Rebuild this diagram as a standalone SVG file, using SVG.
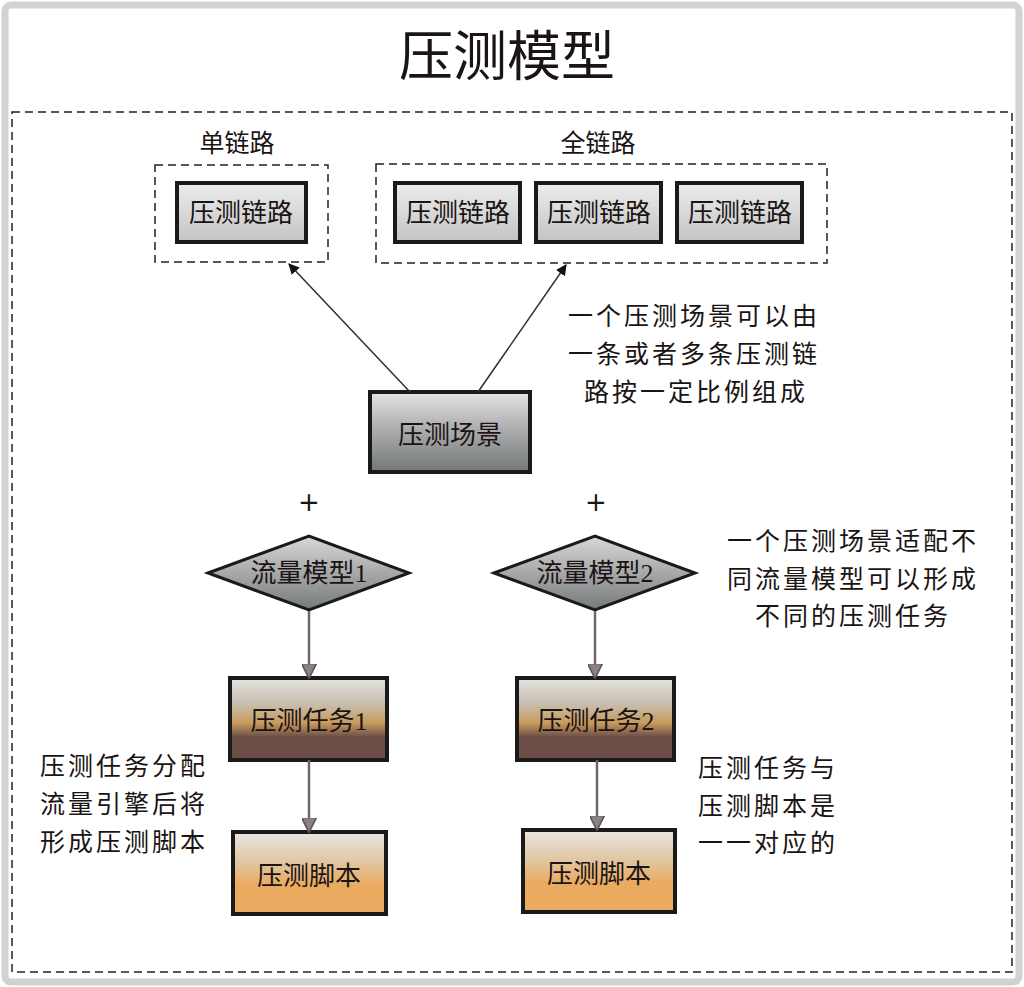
<svg xmlns="http://www.w3.org/2000/svg" width="1024" height="987" viewBox="0 0 1024 987">
<defs>
<style>
text{font-family:"Liberation Serif","Noto Sans CJK SC",serif;fill:#1a1414;}
.t{font-size:25px;text-anchor:middle;}
.n{font-size:26px;text-anchor:middle;}
.note{font-size:25px;letter-spacing:3px;}
.plus{font-size:26px;text-anchor:middle;font-family:"DejaVu Sans",sans-serif;}
.box{stroke:#1a1a1a;stroke-width:4;}
.dash{fill:none;stroke:#222;stroke-width:1.5;stroke-dasharray:8,5;}
.a1{stroke:#3a2c2c;stroke-width:1.5;fill:none;}
.a2{stroke:#6e6464;stroke-width:2.5;fill:none;}
</style>
<linearGradient id="gLink" x1="0" y1="0" x2="0" y2="1">
<stop offset="0" stop-color="#ececec"/><stop offset="1" stop-color="#c4c4c4"/>
</linearGradient>
<linearGradient id="gScene" x1="0" y1="0" x2="0" y2="1">
<stop offset="0" stop-color="#e6e4e2"/><stop offset="0.45" stop-color="#aeaeb0"/><stop offset="1" stop-color="#727877"/>
</linearGradient>
<linearGradient id="gDia" x1="0" y1="0" x2="0" y2="1">
<stop offset="0" stop-color="#d8d8d8"/><stop offset="0.5" stop-color="#a8a8aa"/><stop offset="1" stop-color="#747a7a"/>
</linearGradient>
<linearGradient id="gTask" x1="0" y1="0" x2="0" y2="1">
<stop offset="0" stop-color="#e4e2e0"/><stop offset="0.3" stop-color="#c8c0b4"/><stop offset="0.55" stop-color="#c89a5c"/><stop offset="0.72" stop-color="#6c4e48"/><stop offset="1" stop-color="#6c4e48"/>
</linearGradient>
<linearGradient id="gScript" x1="0" y1="0" x2="0" y2="1">
<stop offset="0" stop-color="#e8e6e4"/><stop offset="0.35" stop-color="#e0c8a4"/><stop offset="0.65" stop-color="#eaaa60"/><stop offset="1" stop-color="#eaaa60"/>
</linearGradient>
<marker id="mBlack" viewBox="0 0 10 10" refX="9" refY="5" markerWidth="11" markerHeight="11" markerUnits="userSpaceOnUse" orient="auto">
<path d="M0,0 L10,5 L0,10 z" fill="#111"/>
</marker>
<marker id="mGray" viewBox="0 0 10 10" refX="9" refY="5" markerWidth="15" markerHeight="15" markerUnits="userSpaceOnUse" orient="auto">
<path d="M0,0 L10,5 L0,10 z" fill="#8a8282" stroke="#5a5050" stroke-width="1"/>
</marker>
</defs>

<rect x="0" y="0" width="1024" height="987" fill="#ffffff"/>
<rect x="5" y="5" width="1014" height="977" rx="6" fill="#ffffff" stroke="#d2d2d2" stroke-width="7"/>
<rect x="12" y="112" width="1000" height="860" class="dash"/>

<g id="title"><text x="507" y="76" style="font-size:54px;text-anchor:middle;">压测模型</text></g>

<g id="single-group">
<text class="t" x="237" y="152">单链路</text>
<rect x="155" y="165" width="173" height="97" class="dash"/>
</g>
<g id="full-group">
<text class="t" x="598" y="152">全链路</text>
<rect x="376" y="164" width="451" height="99" class="dash"/>
</g>

<g id="link-single"><rect x="177" y="183" width="129" height="59" fill="url(#gLink)" class="box"/><text class="n" x="241" y="222">压测链路</text></g>
<g id="link-full-1"><rect x="395" y="183" width="125" height="59" fill="url(#gLink)" class="box"/><text class="n" x="458" y="222">压测链路</text></g>
<g id="link-full-2"><rect x="536" y="183" width="125" height="59" fill="url(#gLink)" class="box"/><text class="n" x="599" y="222">压测链路</text></g>
<g id="link-full-3"><rect x="677" y="183" width="125" height="59" fill="url(#gLink)" class="box"/><text class="n" x="740" y="222">压测链路</text></g>

<g id="scene"><rect x="370" y="392" width="160" height="80" fill="url(#gScene)" class="box"/><text class="n" x="450" y="444">压测场景</text></g>

<g id="plus1"><text class="plus" x="309" y="511">+</text></g>
<g id="plus2"><text class="plus" x="596" y="511">+</text></g>

<g id="model1"><polygon points="208,573 309,536 409,573 309,610" fill="url(#gDia)" stroke="#1a1a1a" stroke-width="3"/><text class="n" x="309" y="582">流量模型1</text></g>
<g id="model2"><polygon points="494,573 595,536 695,573 595,610" fill="url(#gDia)" stroke="#1a1a1a" stroke-width="3"/><text class="n" x="595" y="582">流量模型2</text></g>

<g id="task1"><rect x="230" y="678" width="157" height="82" fill="url(#gTask)" class="box"/><text class="n" x="309" y="730">压测任务1</text></g>
<g id="task2"><rect x="517" y="678" width="157" height="82" fill="url(#gTask)" class="box"/><text class="n" x="596" y="730">压测任务2</text></g>

<g id="script1"><rect x="233" y="832" width="153" height="82" fill="url(#gScript)" class="box"/><text class="n" x="309" y="885">压测脚本</text></g>
<g id="script2"><rect x="523" y="830" width="152" height="82" fill="url(#gScript)" class="box"/><text class="n" x="599" y="883">压测脚本</text></g>

<g id="connectors">
<line x1="410" y1="392" x2="289" y2="264" class="a1" marker-end="url(#mBlack)"/>
<line x1="478" y1="392" x2="566" y2="265" class="a1" marker-end="url(#mBlack)"/>
<line x1="309" y1="611" x2="309" y2="677" class="a2" marker-end="url(#mGray)"/>
<line x1="595" y1="611" x2="595" y2="677" class="a2" marker-end="url(#mGray)"/>
<line x1="309" y1="760" x2="309" y2="831" class="a2" marker-end="url(#mGray)"/>
<line x1="597" y1="760" x2="597" y2="829" class="a2" marker-end="url(#mGray)"/>
</g>

<g id="note-scene">
<text class="note" x="568" y="325">一个压测场景可以由</text>
<text class="note" x="568" y="363">一条或者多条压测链</text>
<text class="note" x="584" y="401">路按一定比例组成</text>
</g>
<g id="note-model">
<text class="note" x="727" y="550">一个压测场景适配不</text>
<text class="note" x="727" y="588">同流量模型可以形成</text>
<text class="note" x="755" y="625">不同的压测任务</text>
</g>
<g id="note-task">
<text class="note" x="40" y="775">压测任务分配</text>
<text class="note" x="40" y="813">流量引擎后将</text>
<text class="note" x="40" y="851">形成压测脚本</text>
</g>
<g id="note-script">
<text class="note" x="698" y="777">压测任务与</text>
<text class="note" x="698" y="815">压测脚本是</text>
<text class="note" x="698" y="852">一一对应的</text>
</g>
</svg>
